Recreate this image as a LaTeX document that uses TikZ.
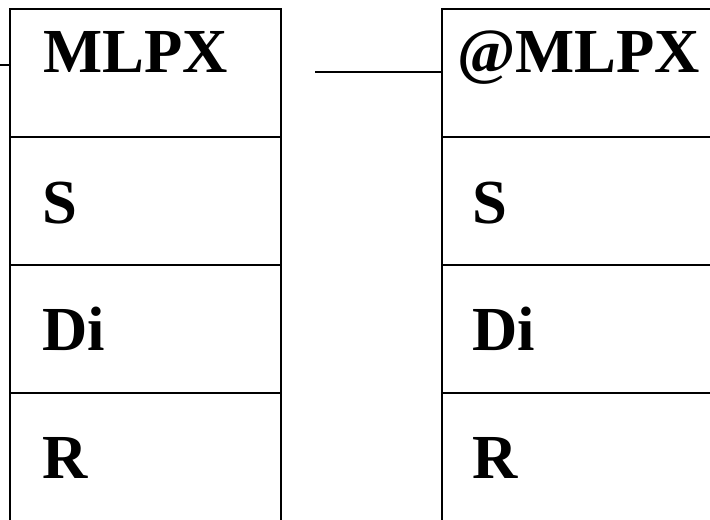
\documentclass[tikz,border=0pt]{standalone}
\usepackage{fontspec}
\setmainfont{Liberation Serif}
\usetikzlibrary{positioning}
\tikzset{
  cell/.style={draw,line width=2.1pt,minimum width=203.25pt,minimum height=96pt,inner sep=0pt,outer sep=0pt},
  lbl/.style={anchor=base west,inner sep=0pt,font=\fontsize{47}{52}\selectfont\bfseries},
  wire/.style={line width=1.8pt},
}
\begin{document}
\begin{tikzpicture}[x=0.75pt,y=-0.75pt]
        \useasboundingbox (0,0) rectangle (710,519);
        \clip (0,0) rectangle (710,519);
        % left block
        \node[cell,anchor=north west] (topA) at (10,9) {};
        \node[cell,below=0pt of topA] (rowSA) {};
        \node[cell,below=0pt of rowSA] (rowDA) {};
        \node[cell,below=0pt of rowDA] (rowRA) {};
        \node[lbl] (hdA) at (43,72) {MLPX};
        \node[lbl] (sA) at (42,223) {S};
        \node[lbl] (diA) at (42,350) {Di};
        \node[lbl] (rA) at (42,478) {R};
        % right block
        \node[cell,anchor=north west] (topB) at (442,9) {};
        \node[cell,below=0pt of topB] (rowSB) {};
        \node[cell,below=0pt of rowSB] (rowDB) {};
        \node[cell,below=0pt of rowDB] (rowRB) {};
        \node[lbl] (hdB) at (457,72) {@MLPX};
        \node[lbl] (sB) at (472,223) {S};
        \node[lbl] (diB) at (472,350) {Di};
        \node[lbl] (rB) at (472,478) {R};
        % lines into the blocks
        \coordinate (inA) at (0,65);
        \coordinate (inB) at (315,72);
        \draw[wire] (inA) -- (inA -| topA.west);
        \draw[wire] (inB) -- (inB -| topB.west);
      \end{tikzpicture}
\end{document}
